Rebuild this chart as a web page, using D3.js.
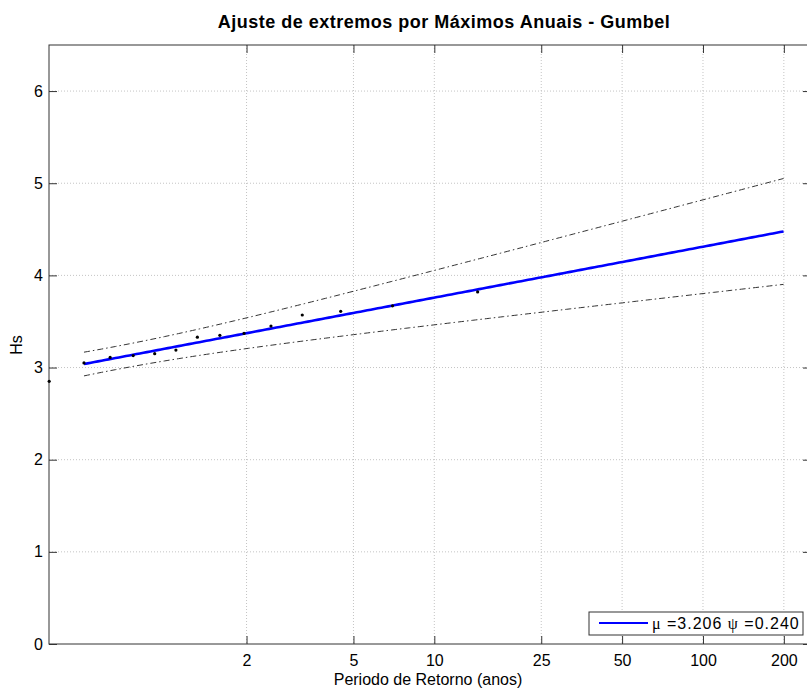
<!DOCTYPE html>
<html>
<head>
<meta charset="utf-8">
<script src="https://cdn.jsdelivr.net/npm/d3@7"></script>
<style>
  html, body { margin: 0; padding: 0; background: #fff; }
  svg { display: block; font-family: Arial, "Liberation Sans", sans-serif; }
</style>
</head>
<body>
<svg id="chart" width="807" height="688"></svg>
<script>
// Annual maxima of significant wave height (Hs) and their return periods (years)
const returnPeriod = [1.071, 1.154, 1.25, 1.364, 1.5, 1.667, 1.875, 2.143, 2.5, 3.0, 3.75, 5.0, 7.5, 15.0];
const hsMax = [2.85, 3.05, 3.11, 3.13, 3.15, 3.19, 3.33, 3.35, 3.37, 3.45, 3.57, 3.61, 3.67, 3.82];

// Gumbel fit parameters (location mu, scale psi) and curve span
const gumbelMu = 3.206;
const gumbelPsi = 0.240;
const fitSpan = [1.154, 200];
const confZ = 1.96;

// Axis ticks
const xTickLabels = [2, 5, 10, 25, 50, 100, 200];
const yTicks = [0, 1, 2, 3, 4, 5, 6];

(function () {
const svg = d3.select("#chart");
const pLeft = 49, pRight = 811, pTop = 45, pBottom = 644;

const x = d3.scaleLinear().domain([-1, 5.531]).range([pLeft, pRight]);
const y = d3.scaleLinear().domain([0, 6.5]).range([pBottom, pTop]);

// Gumbel reduced variate for a return period
const reduced = T => -Math.log(-Math.log(1 - 1 / T));
const n = hsMax.length;
const quantile = u => gumbelMu + gumbelPsi * u;
const halfWidth = u => confZ * gumbelPsi * Math.sqrt(1.1087 + 0.5140 * u + 0.6079 * u * u) / Math.sqrt(n);

// Grid
const grid = svg.append("g");
xTickLabels.forEach(t => {
  grid.append("line")
    .attr("x1", x(Math.log(t))).attr("x2", x(Math.log(t)))
    .attr("y1", pTop).attr("y2", pBottom)
    .attr("stroke", "#c4c4c4").attr("stroke-width", 1)
    .attr("stroke-dasharray", "1,2");
});
yTicks.filter(v => v > 0).forEach(v => {
  grid.append("line")
    .attr("x1", pLeft).attr("x2", pRight)
    .attr("y1", y(v)).attr("y2", y(v))
    .attr("stroke", "#c4c4c4").attr("stroke-width", 1)
    .attr("stroke-dasharray", "1,2");
});

// Axes (ticks drawn inward, mirrored on top and right)
const tickLen = 8;
const xAxis = d3.axisBottom(x)
  .tickValues(xTickLabels.map(t => Math.log(t)))
  .tickFormat((d, i) => xTickLabels[i])
  .tickSizeInner(-tickLen).tickSizeOuter(0).tickPadding(11);
const gx = svg.append("g").attr("transform", `translate(0,${pBottom})`).call(xAxis);
const xTop = d3.axisTop(x)
  .tickValues(xTickLabels.map(t => Math.log(t)))
  .tickFormat("").tickSizeInner(-tickLen).tickSizeOuter(0);
const gxt = svg.append("g").attr("transform", `translate(0,${pTop})`).call(xTop);

const yAxis = d3.axisLeft(y).tickValues(yTicks).tickFormat(d3.format("d"))
  .tickSizeInner(-tickLen).tickSizeOuter(0).tickPadding(6);
const gy = svg.append("g").attr("transform", `translate(${pLeft},0)`).call(yAxis);
const yRight = d3.axisRight(y).tickValues(yTicks).tickFormat("")
  .tickSizeInner(-tickLen).tickSizeOuter(0);
const gyr = svg.append("g").attr("transform", `translate(${pRight},0)`).call(yRight);

[gx, gxt, gy, gyr].forEach(g => {
  g.select(".domain").remove();
  g.selectAll(".tick line").attr("stroke", "#333").attr("stroke-width", 1);
  g.selectAll(".tick text").attr("fill", "#000")
    .style("font-family", "Arial, 'Liberation Sans', sans-serif").style("font-size", "16px");
});

// Axes box
svg.append("rect")
  .attr("x", pLeft).attr("y", pTop)
  .attr("width", pRight - pLeft).attr("height", pBottom - pTop)
  .attr("fill", "none").attr("stroke", "#333").attr("stroke-width", 1);

// Fitted curve and confidence bounds
const u0 = reduced(fitSpan[0]), u1 = reduced(fitSpan[1]);
const uGrid = d3.range(0, 201).map(k => u0 + (u1 - u0) * k / 200);
const line = d3.line().x(d => x(d[0])).y(d => y(d[1]));

const boundStyle = sel => sel.attr("fill", "none").attr("stroke", "#333")
  .attr("stroke-width", 1).attr("stroke-dasharray", "6,3,1.5,3");
svg.append("path").datum(uGrid.map(u => [u, quantile(u) + halfWidth(u)]))
  .attr("d", line).call(boundStyle);
svg.append("path").datum(uGrid.map(u => [u, quantile(u) - halfWidth(u)]))
  .attr("d", line).call(boundStyle);

svg.append("path").datum(uGrid.map(u => [u, quantile(u)]))
  .attr("d", line).attr("fill", "none")
  .attr("stroke", "#0000ff").attr("stroke-width", 2.6);

// Observed annual maxima
svg.append("g").selectAll("circle")
  .data(returnPeriod.map((t, i) => [reduced(t), hsMax[i]]))
  .join("circle")
  .attr("cx", d => x(d[0])).attr("cy", d => y(d[1]))
  .attr("r", 1.6).attr("fill", "#000");

// Legend
const lg = svg.append("g");
lg.append("rect").attr("x", 589).attr("y", 612).attr("width", 214).attr("height", 23)
  .attr("fill", "#fff").attr("stroke", "#333").attr("stroke-width", 1);
lg.append("line").attr("x1", 599).attr("x2", 648).attr("y1", 623).attr("y2", 623)
  .attr("stroke", "#0000ff").attr("stroke-width", 2);
const lt = lg.append("text").attr("x", 652).attr("y", 629)
  .style("font-size", "16px").style("letter-spacing", "1px").attr("fill", "#000");
lt.append("tspan").style("font-family", "'Liberation Serif', serif").text("\u03bc");
lt.append("tspan").text(` =${gumbelMu.toFixed(3)} `);
lt.append("tspan").style("font-family", "'Liberation Serif', serif").text("\u03c8");
lt.append("tspan").text(` =${gumbelPsi.toFixed(3)}`);

// Titles
svg.append("text").attr("x", 444).attr("y", 28).attr("text-anchor", "middle")
  .style("font-size", "18px").style("font-weight", "bold").style("letter-spacing", "0.5px")
  .text("Ajuste de extremos por Máximos Anuais - Gumbel");
svg.append("text").attr("x", 428).attr("y", 685).attr("text-anchor", "middle")
  .style("font-size", "16px")
  .text("Periodo de Retorno (anos)");
svg.append("text").attr("transform", "translate(22,345) rotate(-90)")
  .attr("text-anchor", "middle").style("font-size", "16px")
  .text("Hs");
})();
</script>
</body>
</html>
